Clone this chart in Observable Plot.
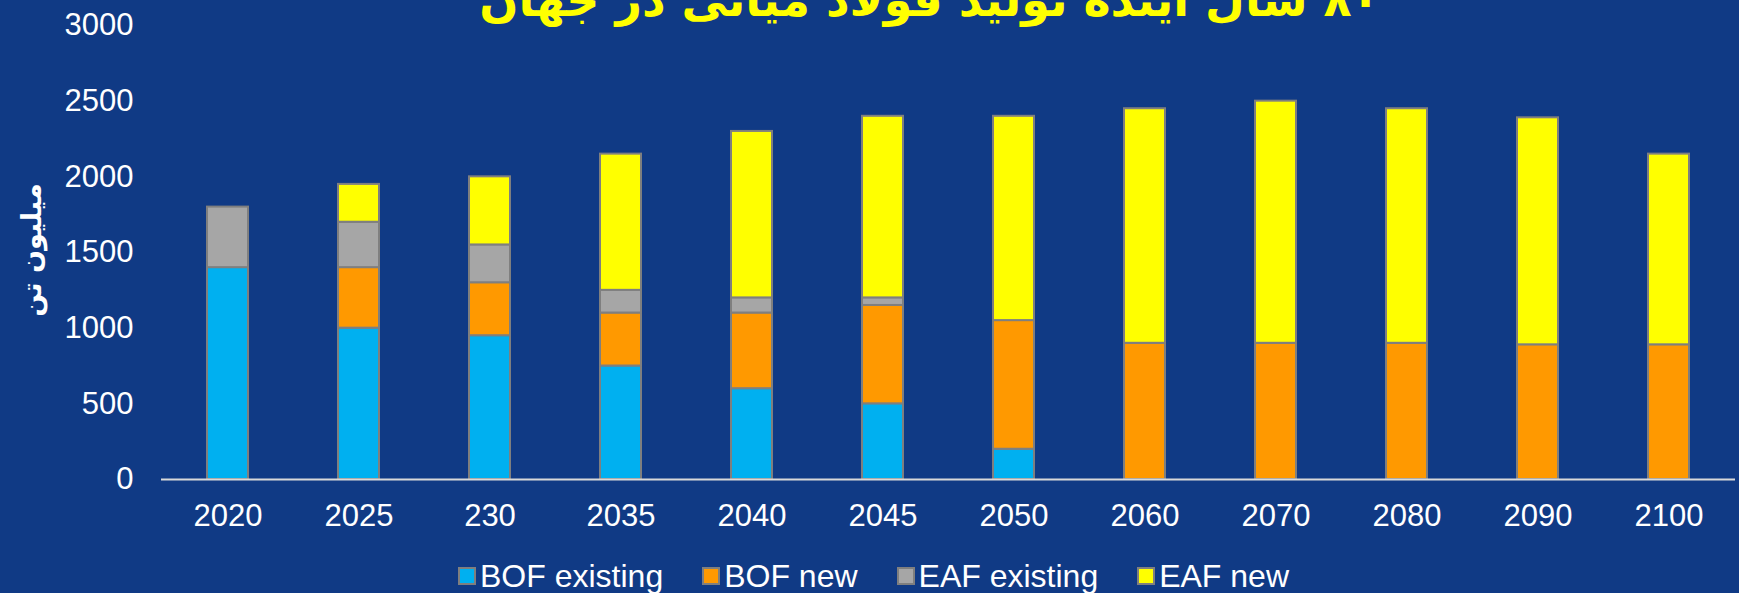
<!DOCTYPE html>
<html>
<head>
<meta charset="utf-8">
<script src="https://cdn.jsdelivr.net/npm/d3@7"></script>
<script src="https://cdn.jsdelivr.net/npm/@observablehq/plot@0.6"></script>
<style>
  html, body { margin: 0; padding: 0; background: #103A85; }
  #wrap { position: relative; width: 1739px; height: 593px; overflow: hidden; background: #103A85; font-family: "Liberation Sans", Arial, sans-serif; }
  #title { position: absolute; left: 0; width: 1739px; top: -23px; text-align: center; direction: rtl;
           font-family: "DejaVu Sans", sans-serif; font-weight: bold; font-size: 46px; color: #FFFF00; line-height: 1;
           padding-left: 120px; box-sizing: border-box; }
  #ylabel { position: absolute; left: 31px; top: 250px; transform: translate(-50%, -50%) rotate(-90deg);
            font-family: "DejaVu Sans", sans-serif; font-weight: bold; font-size: 27px; color: #fff; white-space: nowrap; direction: rtl; }
  #chart { position: absolute; left: 0; top: 0; }
  #legend { position: absolute; left: 458px; top: 560px; display: flex; align-items: center; gap: 39px; color: #fff; font-size: 32px; line-height: 32px; }
  .item { display: flex; align-items: center; }
  .sw { width: 14px; height: 14px; border: 2px solid #7F7F7F; margin-right: 4px; }
</style>
</head>
<body>
<div id="wrap">
  <div id="title">۸۰ سال آینده تولید فولاد میانی در جهان</div>
  <div id="chart"></div>
  <div id="ylabel">میلیون تن</div>
  <div id="legend"></div>
</div>
<script>
const years = ["2020", "2025", "230", "2035", "2040", "2045", "2050", "2060", "2070", "2080", "2090", "2100"];
const seriesNames = ["BOF existing", "BOF new", "EAF existing", "EAF new"];
const seriesColors = ["#00B0F0", "#FF9900", "#A6A6A6", "#FFFF00"];
const bofExisting = [1400, 1000, 950, 750, 600, 500, 200, 0, 0, 0, 0, 0];
const bofNew      = [0, 400, 350, 350, 500, 650, 850, 900, 900, 900, 890, 890];
const eafExisting = [400, 300, 250, 150, 100, 50, 0, 0, 0, 0, 0, 0];
const eafNew      = [0, 250, 450, 900, 1100, 1200, 1350, 1550, 1600, 1550, 1500, 1260];
const yTicks = [0, 500, 1000, 1500, 2000, 2500, 3000];

const allSeries = [bofExisting, bofNew, eafExisting, eafNew];
const rows = [];
allSeries.forEach((vals, si) => {
  vals.forEach((v, i) => {
    if (v > 0) rows.push({ year: years[i], series: seriesNames[si], value: v });
  });
});

const chart = Plot.plot({
  width: 1739,
  height: 540,
  marginLeft: 161,
  marginRight: 4,
  marginTop: 25,
  marginBottom: 61,
  style: { background: "transparent", color: "#fff", fontFamily: "'Liberation Sans', Arial, sans-serif", fontSize: "31px" },
  x: { domain: years, paddingInner: 0.69, paddingOuter: 0.345, label: null, tickSize: 0, tickPadding: 24 },
  y: { domain: [0, 3000], ticks: yTicks, tickFormat: d => String(d), label: null, tickSize: 0, tickPadding: 28 },
  color: { domain: seriesNames, range: seriesColors },
  marks: [
    Plot.barY(rows, { x: "year", y: "value", fill: "series", stroke: "#7F7F7F", strokeWidth: 2, order: seriesNames }),
    Plot.ruleY([0], { stroke: "#D9D9D9", strokeWidth: 2 })
  ]
});
document.getElementById("chart").appendChild(chart);

const legend = document.getElementById("legend");
seriesNames.forEach((name, i) => {
  const it = document.createElement("div");
  it.className = "item";
  const sw = document.createElement("div");
  sw.className = "sw";
  sw.style.background = seriesColors[i];
  const t = document.createElement("span");
  t.textContent = name;
  it.appendChild(sw); it.appendChild(t);
  legend.appendChild(it);
});
</script>
</body>
</html>
